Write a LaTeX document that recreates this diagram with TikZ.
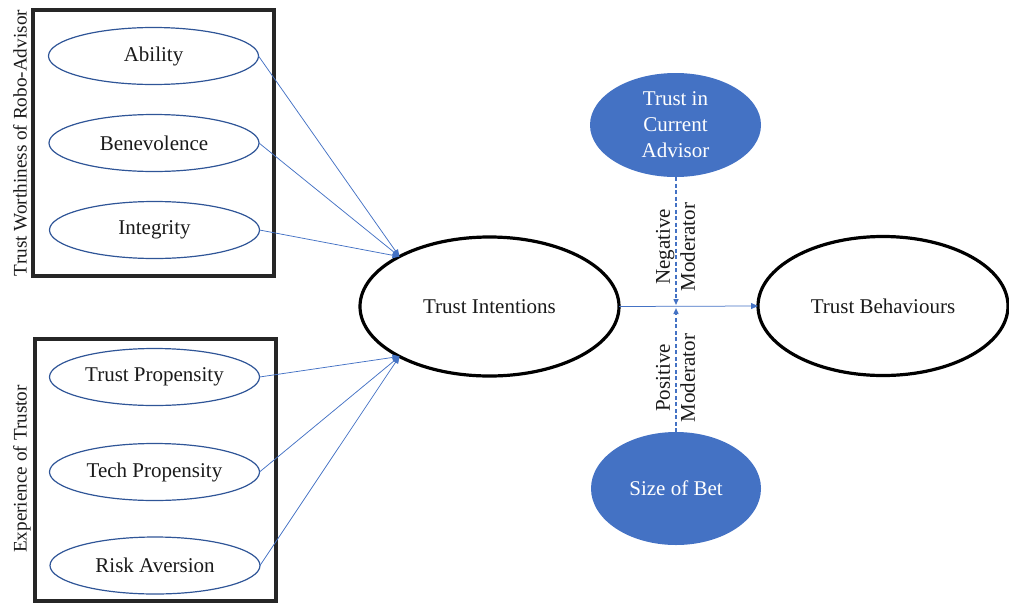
\documentclass[tikz,border=0pt]{standalone}
\usepackage{fontspec}
\setmainfont{Liberation Serif}
\usetikzlibrary{shapes.geometric,arrows.meta}
\definecolor{accent}{HTML}{4472C4}
\definecolor{edgeblue}{HTML}{2F5597}
\definecolor{boxgray}{HTML}{262626}
\definecolor{txtgray}{HTML}{1A1A1A}
\begin{document}
\begin{tikzpicture}[x=1pt,y=-1pt,
  every node/.style={font=\fontsize{21}{25}\selectfont, inner sep=0pt, outer sep=0pt, text=txtgray},
  factor/.style={ellipse, draw=edgeblue, line width=1.2pt, minimum width=210pt, minimum height=57pt},
  bigell/.style={ellipse, draw=black, line width=3.2pt, minimum width=259pt, minimum height=139pt},
  modell/.style={ellipse, fill=accent, text=white, align=center, font=\fontsize{21}{26}\selectfont},
  groupbox/.style={draw=boxgray, line width=3.4pt, minimum width=241pt},
  link/.style={draw=accent, line width=0.75pt, -{Triangle[length=7pt,width=6pt]}},
  modlink/.style={draw=accent, line width=1.4pt, dash pattern=on 4pt off 2.5pt, -{Triangle[length=6pt,width=5pt]}},
  sidelabel/.style={rotate=90, font=\fontsize{19.2}{23}\selectfont},
  modlabel/.style={rotate=90, align=center, font=\fontsize{21}{25}\selectfont}
]
\useasboundingbox (0,0) rectangle (1009,603);

% group boxes
\node[groupbox, minimum height=266pt] (box1) at (153.5,143) {};
\node[groupbox, minimum height=262pt] (box2) at (155.5,470) {};
\node[sidelabel] (lab1) at (20,143) {Trust Worthiness of Robo-Advisor};
\node[sidelabel] (lab2) at (22,469) {Experience of Trustor};

% factors
\node[factor] (abil) at (153.5,56) {Ability};
\node[factor] (bene) at (154,143) {Benevolence};
\node[factor] (inte) at (154.5,230) {Integrity};
\node[factor] (tpro) at (154.5,377) {Trust Propensity};
\node[factor] (tech) at (154.5,472) {Tech Propensity};
\node[factor] (risk) at (155,565.5) {Risk Aversion};

% main constructs
\node[bigell] (ti) at (489.5,306.5) {Trust Intentions};
\node[bigell, minimum width=250pt] (tb) at (883,306) {Trust Behaviours};

% moderators
\node[modell, minimum width=171pt, minimum height=104pt] (tca) at (675.5,125) {Trust in\\Current\\Advisor};
\node[modell, minimum width=170pt, minimum height=113pt] (sob) at (676,488.5) {Size of Bet};

\node[modlabel] (neglab) at (675.5,247) {Negative\\Moderator};
\node[modlabel] (poslab) at (675.5,378) {Positive\\Moderator};

\coordinate (negtip) at (676,305);
\coordinate (postip) at (676,308);

% connectors
\draw[link] (abil.east) -- (ti.151);
\draw[link] (bene.east) -- (ti.151);
\draw[link] (inte.east) -- (ti.151);
\draw[link] (tpro.east) -- (ti.209);
\draw[link] (tech.east) -- (ti.209);
\draw[link] (risk.east) -- (ti.209);
\draw[link] (ti.east) -- (tb.west);
\draw[modlink] (tca.south -| negtip) -- (negtip);
\draw[modlink] (sob.north -| postip) -- (postip);
\end{tikzpicture}
\end{document}
